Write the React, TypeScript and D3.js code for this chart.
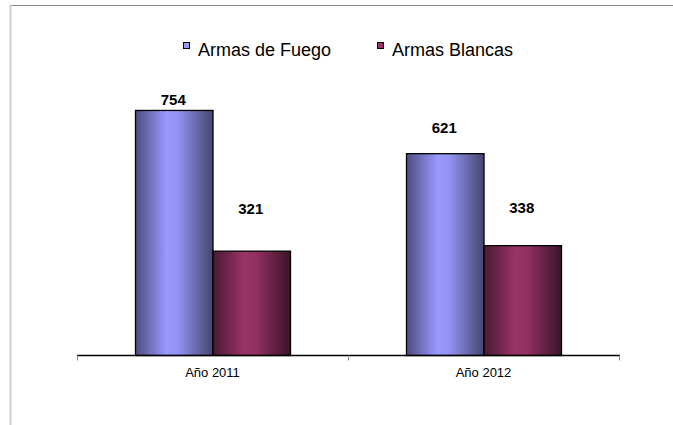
import React from "react";
import * as d3 from "d3";

const categories = ["Año 2011", "Año 2012"];
const seriesNames = ["Armas de Fuego", "Armas Blancas"];
const fuegoValues = [754, 621];
const blancasValues = [321, 338];
const labelLift = [[5, 21], [37, 33]]; // per series, per category label offset above bar

const W = 673;
const H = 425;
const FONT = "Arial, 'Liberation Sans', sans-serif";

export default function App() {
  const x0 = d3.scaleBand().domain(categories).range([77, 619]).paddingInner(0).paddingOuter(0);
  const x1 = d3.scaleBand().domain(seriesNames).range([0, 155]);
  const y = d3.scaleLinear().domain([0, 800]).range([355.5, 95.5]);
  const series = [fuegoValues, blancasValues];
  const gradIds = ["gBlue", "gMaroon"];

  return (
    <div style={{ position: "absolute", left: 0, top: 0 }}>
      <svg width={W} height={H} style={{ display: "block", background: "#fff" }}>
        <defs>
          <linearGradient id="gBlue" x1="0" x2="1" y1="0" y2="0">
            <stop offset="0%" stopColor="#4d4d80" />
            <stop offset="40%" stopColor="#9999ff" />
            <stop offset="55%" stopColor="#9393f2" />
            <stop offset="100%" stopColor="#45456e" />
          </linearGradient>
          <linearGradient id="gMaroon" x1="0" x2="1" y1="0" y2="0">
            <stop offset="0%" stopColor="#4a1a33" />
            <stop offset="40%" stopColor="#993366" />
            <stop offset="55%" stopColor="#923162" />
            <stop offset="100%" stopColor="#3a1428" />
          </linearGradient>
        </defs>
        {/* frame */}
        <line x1={10} x2={673} y1={5.5} y2={5.5} stroke="#888" strokeWidth={1.2} />
        <line x1={10.5} x2={10.5} y1={5} y2={425} stroke="#cfcfcf" strokeWidth={2} />

        {/* legend */}
        {seriesNames.map((s, i) => {
          const lx = i === 0 ? 183 : 377;
          return (
            <g key={s}>
              <rect x={lx + 0.5} y={42.5} width={6} height={6} fill={i === 0 ? "#9999ff" : "#993366"} stroke="#000" strokeWidth={1} />
              <text x={lx + 15} y={56} fontFamily={FONT} fontSize={18} fill="#000">{s}</text>
            </g>
          );
        })}

        {/* bars */}
        {categories.map((c, ci) => {
          const gx = (x0(c) as number) + (x0.bandwidth() - 155) / 2 + 0.5;
          return (
            <g key={c} transform={`translate(${gx},0)`}>
              {series.map((vals, si) => {
                const bx = x1(seriesNames[si]) as number;
                const bw = x1.bandwidth();
                const top = y(vals[ci]);
                return (
                  <g key={si}>
                    <rect x={bx} y={top} width={bw} height={y(0) - top} fill={`url(#${gradIds[si]})`} stroke="#000" strokeWidth={1.3} />
                    <text x={bx + bw / 2 - 1} y={top - labelLift[si][ci]} textAnchor="middle" fontFamily={FONT} fontWeight="bold" fontSize={15} fill="#000">{vals[ci]}</text>
                  </g>
                );
              })}
            </g>
          );
        })}

        {/* axis */}
        <line x1={77} x2={620} y1={y(0)} y2={y(0)} stroke="#000" strokeWidth={1.5} />
        {[77, 348, 619].map((t) => (
          <line key={t} x1={t + 0.5} x2={t + 0.5} y1={y(0)} y2={y(0) + 5} stroke="#888" strokeWidth={1} />
        ))}
        {categories.map((c) => (
          <text key={c} x={(x0(c) as number) + x0.bandwidth() / 2} y={377} textAnchor="middle" fontFamily={FONT} fontSize={13} fill="#000">{c}</text>
        ))}
      </svg>
    </div>
  );
}
